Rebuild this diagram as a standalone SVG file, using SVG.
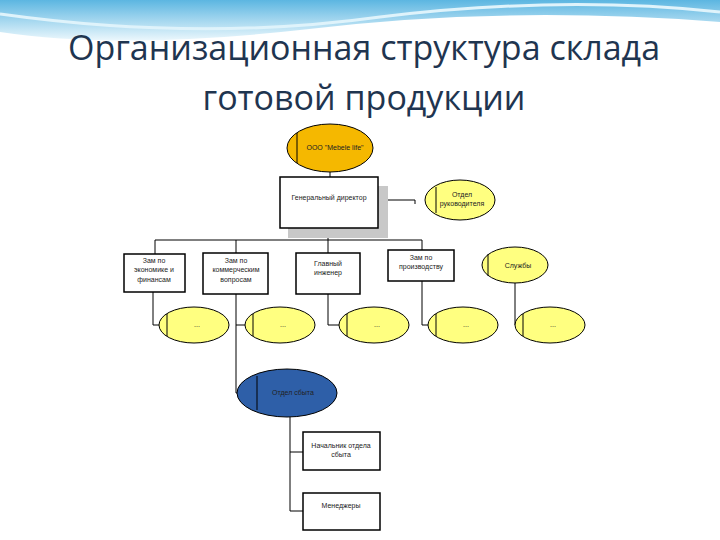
<svg xmlns="http://www.w3.org/2000/svg" width="720" height="540" viewBox="0 0 720 540">
<defs>
<linearGradient id="bg" x1="0" y1="0" x2="0" y2="1"><stop offset="0" stop-color="#3fa9dc"/><stop offset="1" stop-color="#e8f6fc"/></linearGradient>
<style>
.t{font-family:"Liberation Sans",Arial,sans-serif;font-size:7px;fill:#222;text-anchor:middle}
.ttl{font-family:"Open Sans","Liberation Sans",sans-serif;font-size:34px;fill:#1f3550;text-anchor:middle}
.box{fill:#fff;stroke:#000;stroke-width:1.5}
.yel{fill:#ffff80;stroke:#000;stroke-width:1}
.ln{stroke:#000;stroke-width:1;fill:none}
</style>
</defs>
<rect width="720" height="540" fill="#fff"/>
<path d="M0 0H720V22Q500 5 300 30Q120 50 0 32Z" fill="url(#bg)" opacity="0.85"/>
<path d="M0 14Q200 42 380 17Q560 -5 720 12" stroke="#dff3fb" stroke-width="3" fill="none"/>
<text class="ttl" x="364" y="60">Организационная структура склада</text>
<text class="ttl" x="364" y="110">готовой продукции</text>
<g id="connectors">
<path class="ln" d="M330 172V177M378 200H415V204M328 228V240M155 240H422M155 240V254M236 240V253M328 240V253M422 240V250"/>
<path class="ln" d="M153 292V325H159M236 294V393H237M245 325H236M328 294V325H339M422 281V325H428M515 283V325H515"/>
<path class="ln" d="M290 417V511M290 452H303M290 511H303"/>
</g>
<g id="n-ooo"><ellipse cx="330" cy="148" rx="43" ry="24" fill="#f5b800" stroke="#000"/><line class="ln" x1="297" y1="133" x2="297" y2="163"/><text class="t" x="335" y="150">ООО "Mebele life"</text></g>
<g id="n-gd"><rect x="288" y="186" width="100" height="52" fill="#c8c8c8"/><rect class="box" x="280" y="177" width="98" height="51"/><text class="t" x="329" y="200">Генеральный директор</text></g>
<g id="n-otdel"><ellipse class="yel" cx="460" cy="200" rx="35" ry="20"/><line class="ln" x1="436" y1="187" x2="436" y2="213"/><text class="t" x="462" y="197">Отдел</text><text class="t" x="462" y="206">руководителя</text></g>
<g id="n-z1"><rect class="box" x="124" y="254" width="61" height="38"/><text class="t" x="154" y="263">Зам по</text><text class="t" x="154" y="272">экономике и</text><text class="t" x="154" y="282">финансам</text></g>
<g id="n-z2"><rect class="box" x="203" y="253" width="65" height="41" stroke-width="2.5"/><text class="t" x="236" y="263">Зам по</text><text class="t" x="236" y="272">коммерческим</text><text class="t" x="236" y="282">вопросам</text></g>
<g id="n-gi"><rect class="box" x="296" y="253" width="64" height="41" stroke-width="2.5"/><text class="t" x="328" y="266">Главный</text><text class="t" x="328" y="275">инженер</text></g>
<g id="n-z4"><rect class="box" x="388" y="250" width="66" height="31"/><text class="t" x="421" y="260">Зам по</text><text class="t" x="421" y="269">производству</text></g>
<g id="n-sl"><ellipse class="yel" cx="515" cy="265" rx="33" ry="18"/><line class="ln" x1="488" y1="254" x2="488" y2="276"/><text class="t" x="518" y="268">Службы</text></g>
<g id="n-e1"><ellipse class="yel" cx="194" cy="325" rx="35" ry="18"/><line class="ln" x1="167" y1="314" x2="167" y2="336"/><text class="t" x="197" y="327">...</text></g>
<g id="n-e2"><ellipse class="yel" cx="280" cy="325" rx="35" ry="18"/><line class="ln" x1="253" y1="314" x2="253" y2="336"/><text class="t" x="283" y="327">...</text></g>
<g id="n-e3"><ellipse class="yel" cx="374" cy="325" rx="35" ry="18"/><line class="ln" x1="347" y1="314" x2="347" y2="336"/><text class="t" x="377" y="327">...</text></g>
<g id="n-e4"><ellipse class="yel" cx="463" cy="325" rx="35" ry="18"/><line class="ln" x1="436" y1="314" x2="436" y2="336"/><text class="t" x="466" y="327">...</text></g>
<g id="n-e5"><ellipse class="yel" cx="550" cy="325" rx="35" ry="18"/><line class="ln" x1="523" y1="314" x2="523" y2="336"/><text class="t" x="553" y="327">...</text></g>
<g id="n-sbyt"><ellipse cx="287" cy="393" rx="50" ry="24" fill="#2e5fa8" stroke="#000"/><line class="ln" x1="257" y1="376" x2="257" y2="410"/><text class="t" x="293" y="395">Отдел сбыта</text></g>
<g id="n-nach"><rect class="box" x="303" y="432" width="77" height="38"/><text class="t" x="341" y="448">Начальник отдела</text><text class="t" x="341" y="457">сбыта</text></g>
<g id="n-men"><rect class="box" x="303" y="493" width="77" height="37"/><text class="t" x="341" y="508">Менеджеры</text></g>
</svg>
